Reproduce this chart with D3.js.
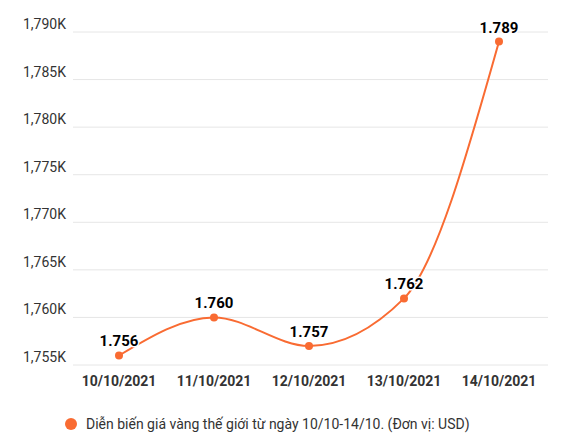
<!DOCTYPE html>
<html><head><meta charset="utf-8">
<script src="https://cdn.jsdelivr.net/npm/d3@7"></script>
<style>body{margin:0;background:#fff;font-family:Roboto,sans-serif;}</style>
</head><body><svg id="c" width="565" height="446"></svg>
<script>
const categories=["10/10/2021","11/10/2021","12/10/2021","13/10/2021","14/10/2021"];
const values=[1756,1760,1757,1762,1789];
const labels=["1.756","1.760","1.757","1.762","1.789"];
const yTicks=[1755,1760,1765,1770,1775,1780,1785,1790];
const legendText="Diễn biến giá vàng thế giới từ ngày 10/10-14/10. (Đơn vị: USD)";
const color="#f96b32";
const svg=d3.select("#c");
const x=d3.scalePoint().domain(categories).range([119,499]);
const y=d3.scaleLinear().domain([1755,1790]).range([365,32]);
svg.append("g").selectAll("line").data(yTicks).join("line")
 .attr("x1",73).attr("x2",548).attr("y1",d=>y(d)).attr("y2",d=>y(d))
 .attr("stroke","#e6e6e6");
svg.append("g").selectAll("text").data(yTicks).join("text")
 .attr("x",66).attr("y",d=>y(d)-3).attr("text-anchor","end")
 .attr("font-size",14).attr("fill","#333").text(d=>d3.format(",")(d)+"K");
svg.append("g").selectAll("text").data(categories).join("text")
 .attr("x",d=>x(d)).attr("y",386).attr("text-anchor","middle")
 .attr("font-size",14).attr("font-weight","bold").attr("fill","#333").text(d=>d);
const line=d3.line().x((d,i)=>x(categories[i])).y(d=>y(d)).curve(d3.curveMonotoneX);
svg.append("path").datum(values).attr("d",line).attr("fill","none").attr("stroke",color).attr("stroke-width",2);
svg.append("g").selectAll("circle").data(values).join("circle")
 .attr("cx",(d,i)=>x(categories[i])).attr("cy",d=>y(d)).attr("r",4).attr("fill",color);
svg.append("g").selectAll("text").data(values).join("text")
 .attr("x",(d,i)=>x(categories[i])).attr("y",d=>y(d)-9).attr("text-anchor","middle")
 .attr("font-size",15).attr("font-weight","bold").attr("fill","#000")
 .attr("stroke","#fff").attr("stroke-width",3).attr("paint-order","stroke")
 .text((d,i)=>labels[i]);
svg.append("circle").attr("cx",71).attr("cy",424).attr("r",6).attr("fill",color);
svg.append("text").attr("x",86).attr("y",429).attr("font-size",14).attr("fill","#333").text(legendText);
</script></body></html>
